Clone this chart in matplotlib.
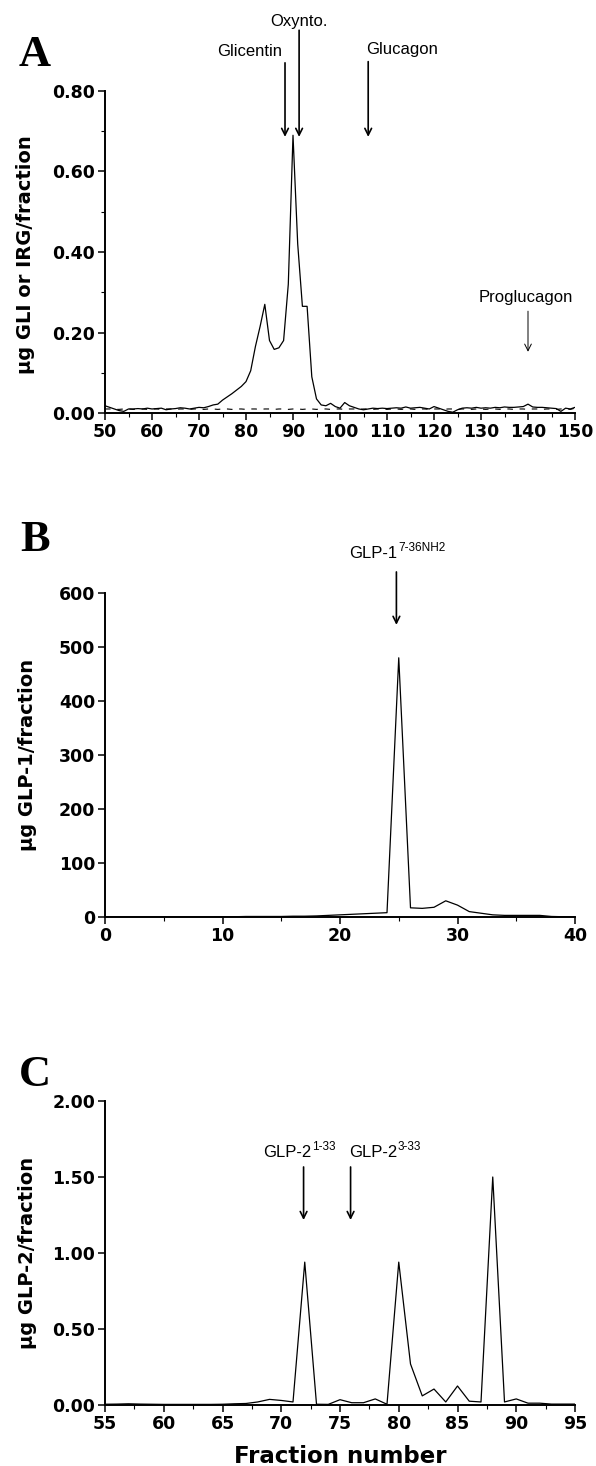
import matplotlib
matplotlib.use("Agg")
import matplotlib.pyplot as plt
from matplotlib.ticker import MultipleLocator, FormatStrFormatter

# ---------------- data ----------------
# Panel A
a_frac = list(range(50, 151))
a_gli = [0.018, 0.014, 0.010, 0.006, 0.004, 0.010, 0.010, 0.011, 0.010, 0.012,
         0.010, 0.011, 0.012, 0.008, 0.010, 0.011, 0.013, 0.012, 0.010, 0.012,
         0.014, 0.013, 0.016, 0.020, 0.022, 0.032, 0.040, 0.048, 0.057, 0.066,
         0.078, 0.105, 0.165, 0.215, 0.270, 0.180, 0.158, 0.162, 0.180, 0.320,
         0.690, 0.420, 0.265, 0.265, 0.090, 0.035, 0.020, 0.018, 0.024, 0.016,
         0.012, 0.026, 0.018, 0.014, 0.010, 0.008, 0.010, 0.012, 0.011, 0.012,
         0.011, 0.012, 0.013, 0.012, 0.015, 0.012, 0.013, 0.014, 0.012, 0.010,
         0.016, 0.012, 0.008, 0.004, 0.002, 0.008, 0.012, 0.013, 0.012, 0.014,
         0.012, 0.013, 0.012, 0.014, 0.013, 0.015, 0.014, 0.014, 0.015, 0.016,
         0.022, 0.015, 0.014, 0.014, 0.013, 0.012, 0.011, 0.004, 0.012, 0.010,
         0.014]
a_irg = [0.010, 0.010, 0.009, 0.009, 0.010, 0.010, 0.009, 0.010, 0.010, 0.009,
         0.010, 0.010, 0.009, 0.010, 0.010, 0.009, 0.010, 0.010, 0.009, 0.010,
         0.010, 0.009, 0.010, 0.010, 0.009, 0.010, 0.010, 0.009, 0.010, 0.010,
         0.009, 0.010, 0.010, 0.009, 0.010, 0.010, 0.009, 0.010, 0.010, 0.009,
         0.010, 0.010, 0.009, 0.010, 0.010, 0.009, 0.010, 0.010, 0.009, 0.010,
         0.010, 0.009, 0.010, 0.010, 0.009, 0.010, 0.010, 0.009, 0.010, 0.010,
         0.009, 0.010, 0.010, 0.009, 0.010, 0.010, 0.009, 0.010, 0.010, 0.009,
         0.010, 0.010, 0.009, 0.010, 0.010, 0.009, 0.010, 0.010, 0.009, 0.010,
         0.010, 0.009, 0.010, 0.010, 0.009, 0.010, 0.010, 0.009, 0.010, 0.010,
         0.009, 0.010, 0.010, 0.009, 0.010, 0.010, 0.009, 0.010, 0.010, 0.009,
         0.012]

# Panel B
b_frac = list(range(0, 41))
b_glp1 = [0, 0, 0, 0, 0, 0, 0, 0, 0, 0,
          0.5, 0.5, 1, 1, 1, 1, 1.5, 1.5, 2, 3,
          4, 5, 6, 7, 8, 480, 17, 16, 18, 30,
          22, 10, 7, 4, 3, 3, 3, 3, 1, 0.5, 0]

# Panel C
c_frac = list(range(55, 96))
c_glp2 = [0.005, 0.006, 0.008, 0.006, 0.005, 0.004, 0.004, 0.004, 0.004, 0.004,
          0.005, 0.008, 0.010, 0.020, 0.037, 0.030, 0.020, 0.940, 0.005, 0.004,
          0.035, 0.015, 0.015, 0.040, 0.005, 0.940, 0.270, 0.060, 0.105, 0.020,
          0.125, 0.025, 0.020, 1.500, 0.020, 0.040, 0.012, 0.012, 0.006, 0.006,
          0.006]

# ---------------- figure ----------------
W, H = 596, 1466
fig = plt.figure(figsize=(W / 100, H / 100), dpi=100)

TICKFONT = dict(family="DejaVu Sans", weight="bold", size=12.5)
ANNFONT = dict(family="Liberation Sans", size=12)
SUPFONT = dict(family="Liberation Sans", size=8.5)


def px_axes(left, right, top, bottom):
    return fig.add_axes([left / W, 1 - bottom / H, (right - left) / W, (bottom - top) / H])


def style(ax):
    for s in ("top", "right"):
        ax.spines[s].set_visible(False)
    for s in ("left", "bottom"):
        ax.spines[s].set_linewidth(1.4)
    ax.tick_params(which="major", direction="out", length=5, width=1.1, pad=2)
    ax.tick_params(which="minor", direction="out", length=3, width=0.8)
    for lab in ax.get_xticklabels() + ax.get_yticklabels():
        lab.set_fontfamily(TICKFONT["family"])
        lab.set_fontweight(TICKFONT["weight"])
        lab.set_fontsize(TICKFONT["size"])


def arrow(ax, x, y0, y1, lw=1.2):
    ax.annotate("", xy=(x, y1), xytext=(x, y0), annotation_clip=False,
                arrowprops=dict(arrowstyle="->", lw=lw, color="black",
                                shrinkA=0, shrinkB=0, mutation_scale=12))


# ---- Panel A ----
axA = px_axes(105, 575, 91, 413)
axA.plot(a_frac, a_gli, color="black", lw=0.9)
axA.plot(a_frac, a_irg, color="black", lw=0.8, ls=(0, (5, 6)))
axA.set_xlim(50, 150)
axA.set_ylim(0, 0.8)
axA.xaxis.set_major_locator(MultipleLocator(10))
axA.xaxis.set_minor_locator(MultipleLocator(5))
axA.yaxis.set_major_locator(MultipleLocator(0.2))
axA.yaxis.set_minor_locator(MultipleLocator(0.1))
axA.yaxis.set_major_formatter(FormatStrFormatter("%.2f"))
style(axA)
axA.text(91.3, 0.972, "Oxynto.", ha="center", va="center", **ANNFONT)
axA.text(80.8, 0.897, "Glicentin", ha="center", va="center", **ANNFONT)
axA.text(113.2, 0.902, "Glucagon", ha="center", va="center", **ANNFONT)
axA.text(139.5, 0.288, "Proglucagon", ha="center", va="center", **ANNFONT)
arrow(axA, 91.3, 0.951, 0.686)
arrow(axA, 88.3, 0.870, 0.686)
arrow(axA, 106.0, 0.873, 0.686)
arrow(axA, 140.0, 0.253, 0.152, lw=0.7)

# ---- Panel B ----
axB = px_axes(105, 575, 593, 917)
axB.plot(b_frac, b_glp1, color="black", lw=0.9)
axB.set_xlim(0, 40)
axB.set_ylim(0, 600)
axB.xaxis.set_major_locator(MultipleLocator(10))
axB.xaxis.set_minor_locator(MultipleLocator(5))
axB.yaxis.set_major_locator(MultipleLocator(100))
style(axB)
axB.text(24.9, 674, "GLP-1", ha="right", va="center", **ANNFONT)
axB.text(24.98, 684, "7-36NH2", ha="left", va="center", **SUPFONT)
arrow(axB, 24.8, 639, 541)

# ---- Panel C ----
axC = px_axes(105, 575, 1101, 1405)
axC.plot(c_frac, c_glp2, color="black", lw=0.9)
axC.set_xlim(55, 95)
axC.set_ylim(0, 2.0)
axC.xaxis.set_major_locator(MultipleLocator(5))
axC.xaxis.set_minor_locator(MultipleLocator(2.5))
axC.yaxis.set_major_locator(MultipleLocator(0.5))
axC.yaxis.set_major_formatter(FormatStrFormatter("%.2f"))
style(axC)
axC.text(72.6, 1.664, "GLP-2", ha="right", va="center", **ANNFONT)
axC.text(72.65, 1.700, "1-33", ha="left", va="center", **SUPFONT)
axC.text(79.85, 1.664, "GLP-2", ha="right", va="center", **ANNFONT)
axC.text(79.9, 1.700, "3-33", ha="left", va="center", **SUPFONT)
arrow(axC, 71.9, 1.566, 1.217)
arrow(axC, 75.9, 1.566, 1.217)
axC.set_xlabel("Fraction number", family="DejaVu Sans", weight="bold", size=16.5, labelpad=9)

# ---- panel letters & y labels ----
for letter, y in (("A", 55), ("B", 540), ("C", 1075)):
    fig.text(35 / W, 1 - y / H, letter, family="Liberation Serif", weight="bold",
             size=32, ha="center", va="center")

ylab = dict(family="DejaVu Sans", weight="bold", size=14, rotation=90, ha="center", va="center")
fig.text(26 / W, 1 - 255 / H, "µg GLI or IRG/fraction", **ylab)
fig.text(28 / W, 1 - 755 / H, "µg GLP-1/fraction", **ylab)
fig.text(28 / W, 1 - 1253 / H, "µg GLP-2/fraction", **ylab)

fig.savefig("out.png", dpi=100, facecolor="white")
